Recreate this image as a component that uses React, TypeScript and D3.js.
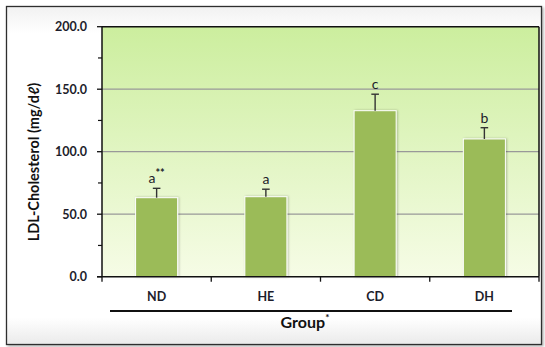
import React from "react";
import * as d3 from "d3";

const groups = ["ND", "HE", "CD", "DH"];
const means = [63.2, 64.0, 132.8, 110.2];
const errors = [7.5, 6.0, 13.2, 9.0];
const letters = ["a", "a", "c", "b"];
const marks = ["**", "", "", ""];
const yTicks = [0, 50, 100, 150, 200];
const yMinorTicks = [25, 75, 125, 175];

const W = 545;
const H = 347;
const plot = { left: 102, right: 539, top: 26.7, bottom: 276.7 };
const FONT = "Lato, 'DejaVu Sans', sans-serif";
const TEXT = "#1d1d2b";

export default function App() {
  const x = d3
    .scaleBand<string>()
    .domain(groups)
    .range([plot.left, plot.right])
    .paddingInner(0)
    .paddingOuter(0);
  const y = d3.scaleLinear().domain([0, 200]).range([plot.bottom, plot.top]);
  const barW = x.bandwidth() * 0.385;
  const boundaries = groups.map((g) => x(g)!).concat([plot.right]);

  return (
    <svg
      width={W}
      height={H}
      style={{ position: "absolute", left: 0, top: 0, fontFamily: FONT }}
    >
      <defs>
        <linearGradient id="plotBg" x1="0" y1="0" x2="0" y2="1">
          <stop offset="0" stopColor="#ccee9e" />
          <stop offset="1" stopColor="#f6fce6" />
        </linearGradient>
        <linearGradient id="frameBg" x1="0" y1="0" x2="0" y2="1">
          <stop offset="0" stopColor="#f1f1f1" />
          <stop offset="0.08" stopColor="#ffffff" />
          <stop offset="0.92" stopColor="#ffffff" />
          <stop offset="1" stopColor="#eaeaea" />
        </linearGradient>
        <filter id="barShadow" x="-20%" y="-20%" width="140%" height="140%">
          <feDropShadow dx="1" dy="0" stdDeviation="0.8" floodColor="#000" floodOpacity="0.25" />
        </filter>
        <filter id="frameShadow" x="-5%" y="-5%" width="110%" height="110%">
          <feDropShadow dx="1.5" dy="1.5" stdDeviation="1" floodColor="#000" floodOpacity="0.3" />
        </filter>
      </defs>

      {/* outer frame */}
      <rect
        x={6.5}
        y={6.5}
        width={535}
        height={338}
        fill="url(#frameBg)"
        stroke="#2e2e2e"
        strokeWidth={1.3}
        filter="url(#frameShadow)"
      />

      {/* plot background */}
      <rect
        x={plot.left}
        y={plot.top}
        width={plot.right - plot.left}
        height={plot.bottom - plot.top}
        fill="url(#plotBg)"
      />

      {/* gridlines */}
      {yTicks
        .filter((t) => t > 0 && t < 200)
        .map((t) => (
          <line
            key={"g" + t}
            x1={plot.left}
            x2={plot.right}
            y1={y(t)}
            y2={y(t)}
            stroke="#999999"
            strokeWidth={1.3}
          />
        ))}

      {/* bars */}
      {groups.map((g, i) => {
        const cx = x(g)! + x.bandwidth() / 2;
        return (
          <rect
            key={"b" + g}
            x={cx - barW / 2}
            y={y(means[i])}
            width={barW}
            height={y(0) - y(means[i])}
            fill="#9bbb59"
            stroke="#ffffff"
            strokeWidth={1}
            filter="url(#barShadow)"
          />
        );
      })}

      {/* error bars */}
      {groups.map((g, i) => {
        const cx = x(g)! + x.bandwidth() / 2;
        const top = y(means[i] + errors[i]);
        return (
          <g key={"e" + g} stroke="#333333" strokeWidth={1.4}>
            <line x1={cx} x2={cx} y1={y(means[i])} y2={top} />
            <line x1={cx - 3.8} x2={cx + 3.8} y1={top} y2={top} />
          </g>
        );
      })}

      {/* significance letters */}
      {groups.map((g, i) => {
        const cx = x(g)! + x.bandwidth() / 2;
        const top = y(means[i] + errors[i]);
        return (
          <text
            key={"l" + g}
            x={cx}
            y={top - 5}
            textAnchor="middle"
            fontSize={14}
            fill={TEXT}
          >
            {letters[i]}
            {marks[i] && (
              <tspan dy={-6} fontSize={11} fontWeight="bold">
                {marks[i]}
              </tspan>
            )}
          </text>
        );
      })}

      {/* plot border: top and right */}
      <line x1={plot.left} x2={plot.right} y1={plot.top} y2={plot.top} stroke="#111" strokeWidth={1.5} />
      <line x1={plot.right} x2={plot.right} y1={plot.top} y2={plot.bottom} stroke="#111" strokeWidth={1.5} />

      {/* y axis */}
      <line x1={plot.left} x2={plot.left} y1={plot.top} y2={plot.bottom} stroke="#111" strokeWidth={1.5} />
      {yTicks.map((t) => (
        <g key={"yt" + t}>
          <line x1={plot.left - 5} x2={plot.left} y1={y(t)} y2={y(t)} stroke="#111" strokeWidth={1.3} />
          <text
            x={87}
            y={y(t)}
            dy="0.35em"
            textAnchor="end"
            fontSize={12.5}
            fontWeight="bold"
            fill={TEXT}
          >
            {d3.format(".1f")(t)}
          </text>
        </g>
      ))}
      {yMinorTicks.map((t) => (
        <line key={"ym" + t} x1={plot.left - 4} x2={plot.left} y1={y(t)} y2={y(t)} stroke="#111" strokeWidth={1.2} />
      ))}

      {/* x axis */}
      <line x1={plot.left - 5} x2={plot.right} y1={plot.bottom} y2={plot.bottom} stroke="#111" strokeWidth={1.5} />
      {boundaries.map((bx, i) => (
        <line key={"xt" + i} x1={bx} x2={bx} y1={plot.bottom} y2={plot.bottom + 5} stroke="#111" strokeWidth={1.3} />
      ))}
      {groups.map((g) => (
        <text
          key={"xl" + g}
          x={x(g)! + x.bandwidth() / 2}
          y={300.5}
          textAnchor="middle"
          fontSize={12.5}
          fontWeight="bold"
          fill={TEXT}
        >
          {g}
        </text>
      ))}

      {/* separator under group labels */}
      <line x1={110} x2={512} y1={311} y2={311} stroke="#111" strokeWidth={2} />

      {/* x title */}
      <text x={305} y={327.5} textAnchor="middle" fontSize={16} fontWeight="bold" fill="#111">
        Group
        <tspan dy={-7} fontSize={10}>
          *
        </tspan>
      </text>

      {/* y title */}
      <text
        transform={`translate(39, 162) rotate(-90)`}
        textAnchor="middle"
        fontSize={14.5}
        fontWeight="bold"
        fill="#111"
      >
        LDL-Cholesterol (mg/dℓ)
      </text>
    </svg>
  );
}
